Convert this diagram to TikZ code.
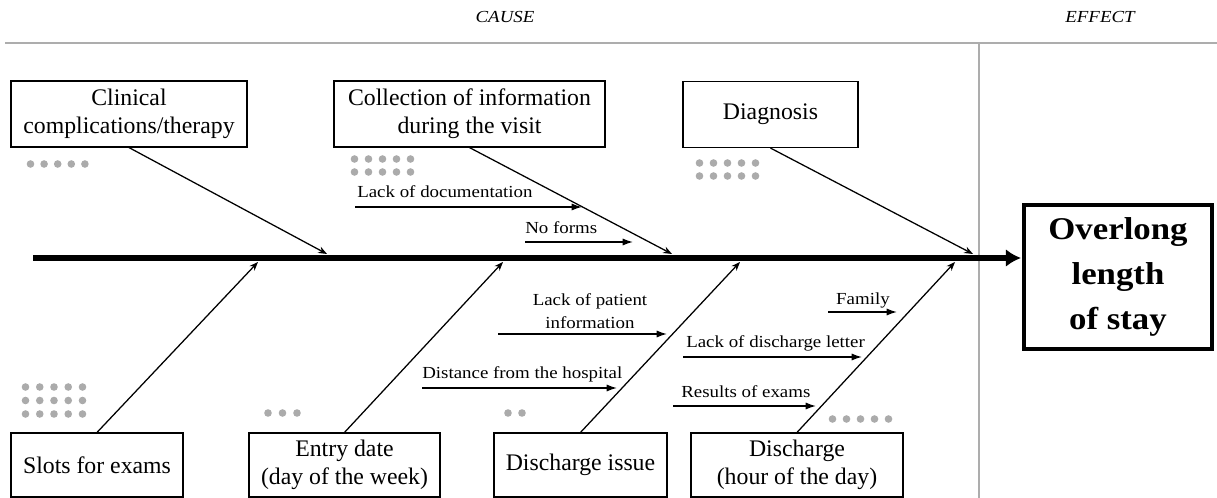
\documentclass[tikz,border=0pt]{standalone}
\usepackage{fontspec}
\setmainfont{Liberation Serif}
\newfontfamily\widefont[FakeStretch=1.12]{Liberation Serif}
\newfontfamily\effectfont[FakeStretch=1.1]{Liberation Serif}
\usetikzlibrary{arrows.meta}

\def\px{0.025cm}
\def\dotsize{0.095cm}

\begin{document}
\begin{tikzpicture}[x=\px,y=-\px]
		\tikzstyle{cause}=[draw=black,line width=0.8pt,fill=white,align=center,inner sep=0pt,font=\fontsize{16.9}{20}\selectfont]
		\tikzstyle{top cause}=[cause,minimum height=1.65cm]
		\tikzstyle{bottom cause}=[cause,minimum height=1.6cm]
		\tikzstyle{effect}=[draw=black,line width=2.2pt,align=center,minimum width=4.7cm,minimum height=3.6cm,font=\effectfont\bfseries\fontsize{22.5}{32}\selectfont]
		\tikzstyle{sub}=[align=center,inner sep=0pt,font=\widefont\fontsize{12}{16.3}\selectfont]
		\tikzstyle{head}=[inner sep=0pt,font=\widefont\itshape\fontsize{12}{14}\selectfont]
		\tikzstyle{bone}=[line width=0.9pt,-{Stealth[length=0.22cm,width=0.17cm]}]
		\tikzstyle{twig}=[line width=1pt,-{Latex[length=0.26cm,width=0.18cm]}]
		\tikzstyle{spine}=[line width=4pt,-{Latex[length=0.38cm,width=0.45cm]}]
		\tikzstyle{frame}=[draw=black!32,line width=1pt]
		\tikzstyle{dot}=[fill=black!33]

		\useasboundingbox (0,0) rectangle (1217,498);

			% Draw the frame and the headings
		\coordinate (frame-l) at (5,43);
		\coordinate (frame-r) at (1217,43);
		\coordinate (frame-t) at (979,43);
		\coordinate (frame-b) at (979,498);
		\draw[frame] (frame-l) -- (frame-r);
		\draw[frame] (frame-t) -- (frame-b);
		\node[head] (cause-head) at (505,17) {CAUSE};
		\node[head] (effect-head) at (1100,17) {EFFECT};

			% Draw the cause boxes
		\node[top cause,minimum width=5.9cm] (clinical) at (129,114) {Clinical\\complications/therapy};
		\node[top cause,minimum width=6.775cm] (collection) at (469.5,114) {Collection of information\\during the visit};
		\node[top cause,minimum width=4.375cm] (diagnosis) at (770.5,114.5) {Diagnosis};
		\node[bottom cause,minimum width=4.3cm] (slots) at (97,465) {Slots for exams};
		\node[bottom cause,minimum width=4.775cm] (entry) at (344.5,465) {Entry date\\(day of the week)};
		\node[bottom cause,minimum width=4.325cm] (issue) at (580.5,465) {Discharge issue};
		\node[bottom cause,minimum width=5.3cm] (hour) at (797,465) {Discharge\\(hour of the day)};

			% Draw the effect box and the spine
		\node[effect] (overlong) at (1118,277) {Overlong\\length\\of stay};
		\coordinate (spine-start) at (33,258);
		\coordinate (spine-end) at (1021,258);
		\draw[spine] (spine-start) -- (spine-end);

			% Connect every cause box with the spine
		\foreach \name / \x in {clinical/327,collection/672,diagnosis/973}
		{
		\coordinate (\name-tip) at (\x,254);
		\draw[bone] (\name.south) -- (\name-tip);
		}
		\foreach \name / \x in {slots/258,entry/503,issue/740,hour/955}
		{
		\coordinate (\name-tip) at (\x,262);
		\draw[bone] (\name.north) -- (\name-tip);
		}

			% Draw the sub-causes
		\foreach \name / \xs / \xe / \y in {doc/355/582/207,forms/525/633/242,patient/498/667/334,distance/422/617/388,family/828/897/312,letter/683/862/357,results/673/816/406}
		{
		\coordinate (\name-s) at (\xs,\y);
		\coordinate (\name-e) at (\xe,\y);
		\draw[twig] (\name-s) -- (\name-e);
		}
		\node[sub,anchor=west] (doc) at (357,192) {Lack of documentation};
		\node[sub,anchor=west] (forms) at (525,228) {No forms};
		\node[sub] (patient) at (590,311) {Lack of patient\\information};
		\node[sub,anchor=west] (distance) at (422,374) {Distance from the hospital};
		\node[sub] (family) at (863,300) {Family};
		\node[sub,anchor=west] (letter) at (686,343) {Lack of discharge letter};
		\node[sub,anchor=west] (results) at (681,392) {Results of exams};

			% Draw the dots
		\foreach \i in {0,...,4}
		\fill[dot] (30.5+13.6*\i,164) circle (\dotsize);
		\foreach \i in {0,...,4}
		\foreach \j in {0,1}
		\fill[dot] (354.5+14*\i,159+13*\j) circle (\dotsize);
		\foreach \i in {0,...,4}
		\foreach \j in {0,1}
		\fill[dot] (699.5+14*\i,163+13*\j) circle (\dotsize);
		\foreach \i in {0,...,4}
		\foreach \j in {0,1,2}
		\fill[dot] (25.5+14.25*\i,387+13.5*\j) circle (\dotsize);
		\foreach \i in {0,1,2}
		\fill[dot] (268+14.5*\i,413) circle (\dotsize);
		\foreach \i in {0,1}
		\fill[dot] (508+14*\i,413) circle (\dotsize);
		\foreach \i in {0,...,4}
		\fill[dot] (832.5+14*\i,419) circle (\dotsize);
\end{tikzpicture}
\end{document}
